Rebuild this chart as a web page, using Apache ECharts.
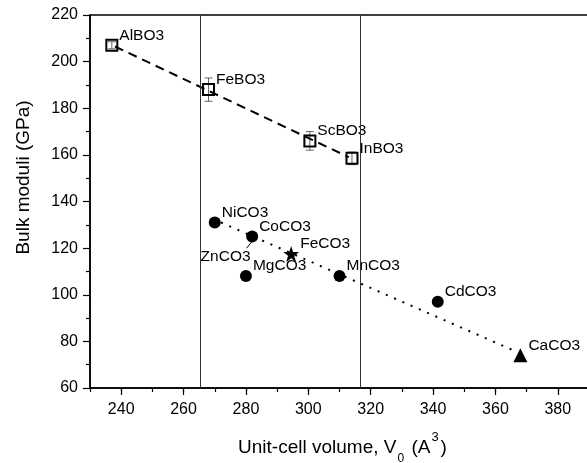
<!DOCTYPE html>
<html>
<head>
<meta charset="utf-8">
<script src="https://cdn.jsdelivr.net/npm/echarts@6/dist/echarts.min.js"></script>
<style>
  html, body { margin: 0; padding: 0; background: #fff; }
  #chart { width: 587px; height: 463px; }
</style>
</head>
<body>
<div id="chart"></div>
<script>
  // borates (open squares, dashed fit)
  const borateNames = ['AlBO3', 'FeBO3', 'ScBO3', 'InBO3'];
  const borateVolume = [237, 268, 300.5, 314];
  const borateModulus = [207, 188, 166, 158.5];
  const borateError = [1.5, 5, 4, 2.7];

  // carbonates (filled circles, dotted fit)
  const carbonateNames = ['NiCO3', 'CoCO3', 'MgCO3', 'MnCO3', 'CdCO3'];
  const carbonateVolume = [270, 282, 280, 310, 341.5];
  const carbonateModulus = [131, 125, 108, 108, 97];

  const sideriteNames = ['FeCO3'];
  const sideriteVolume = [294.5];
  const sideriteModulus = [117.5];

  const calciteNames = ['CaCO3'];
  const calciteVolume = [368];
  const calciteModulus = [74];

  // ZnCO3 pointer (label + short leader towards CoCO3)
  const zincNames = ['ZnCO3'];
  const zincPointerVolume = [280.2, 281.8];
  const zincPointerModulus = [120, 122.6];

  // fit lines
  const borateFitVolume = [238, 313];
  const borateFitModulus = [206.5, 159];
  const carbonateFitVolume = [272, 366];
  const carbonateFitModulus = [131, 76];

  // vertical reference lines
  const boundaryVolumes = [265.5, 316.5];

  // axes
  const xMin = 230, xMax = 390, xMinorStep = 10;
  const xTickValues = [240, 260, 280, 300, 320, 340, 360, 380];
  const yMin = 60, yMax = 220, yStep = 20;

  const font = 'Liberation Sans, Arial, sans-serif';

  function pairs(xs, ys) {
    return xs.map((x, i) => [x, ys[i]]);
  }

  function named(names, xs, ys) {
    return names.map((n, i) => ({name: n, value: [xs[i], ys[i]]}));
  }

  const pointLabel = {
    show: true,
    position: 'right',
    distance: 1,
    offset: [0, -10],
    formatter: '{b}',
    color: '#000',
    fontFamily: font,
    fontSize: 15.5
  };

  const tickStyle = {color: '#000', width: 1.2};

  const chart = echarts.init(document.getElementById('chart'));

  const option = {
    animation: false,
    grid: {
      left: 90,
      top: 15,
      width: 499,
      height: 373,
      outerBoundsMode: 'none',
      containLabel: false,
      show: true,
      borderColor: '#000',
      borderWidth: 1.5,
      backgroundColor: 'transparent'
    },
    xAxis: [
      {
        type: 'value',
        min: xMin,
        max: xMax,
        interval: xMinorStep,
        name: '{a|Unit-cell volume, V}{sub|0}{a| (A}{sup|3}{a|)}',
        nameLocation: 'middle',
        nameGap: 43,
        nameTextStyle: {
          padding: [0, 0, 0, 6],
          rich: {
            a: {fontSize: 19, fontFamily: font, color: '#000', lineHeight: 34, verticalAlign: 'middle'},
            sub: {fontSize: 12, fontFamily: font, color: '#000', lineHeight: 14, verticalAlign: 'bottom', padding: [0, 2, 0, 1]},
            sup: {fontSize: 13, fontFamily: font, color: '#000', lineHeight: 14, verticalAlign: 'top', padding: [0, 2, 0, 1]}
          }
        },
        axisLine: {show: true, lineStyle: {color: '#000', width: 1.5}},
        axisTick: {show: true, length: 7, customValues: xTickValues, lineStyle: tickStyle},
        splitLine: {show: false},
        axisLabel: {color: '#000', fontSize: 16, fontFamily: font, margin: 14, customValues: xTickValues}
      },
      {
        type: 'value',
        position: 'bottom',
        min: xMin,
        max: xMax,
        interval: xMinorStep,
        axisLine: {show: false},
        axisTick: {show: true, length: 4, lineStyle: tickStyle},
        axisLabel: {show: false},
        splitLine: {show: false}
      }
    ],
    yAxis: {
      type: 'value',
      min: yMin,
      max: yMax,
      interval: yStep,
      name: 'Bulk moduli (GPa)',
      nameLocation: 'middle',
      nameGap: 57,
      nameTextStyle: {color: '#000', fontSize: 19, fontFamily: font, padding: [0, 0, 0, 48]},
      axisLine: {show: true, lineStyle: {color: '#000', width: 1.5}},
      axisTick: {show: true, length: 7, lineStyle: tickStyle},
      minorTick: {show: true, splitNumber: 2, length: 4, lineStyle: tickStyle},
      splitLine: {show: false},
      axisLabel: {color: '#000', fontSize: 16, fontFamily: font, margin: 12}
    },
    series: [
      {
        type: 'line',
        data: pairs(borateFitVolume, borateFitModulus),
        symbol: 'none',
        lineStyle: {color: '#000', width: 2, type: [9, 6]},
        markLine: {
          silent: true,
          symbol: 'none',
          label: {show: false},
          lineStyle: {color: '#333', width: 1, type: 'solid'},
          data: boundaryVolumes.map(v => ({xAxis: v}))
        }
      },
      {
        type: 'line',
        data: pairs(carbonateFitVolume, carbonateFitModulus),
        symbol: 'none',
        lineStyle: {color: '#000', width: 2, type: [2, 7]}
      },
      {
        type: 'line',
        data: pairs(zincPointerVolume, zincPointerModulus),
        symbol: 'none',
        lineStyle: {color: '#000', width: 1}
      },
      {
        type: 'custom',
        data: borateVolume.map((x, i) => [x, borateModulus[i], borateError[i]]),
        renderItem(params, api) {
          const x = api.value(0), y = api.value(1), e = api.value(2);
          const top = api.coord([x, y + e]);
          const bot = api.coord([x, y - e]);
          const style = {stroke: '#666', lineWidth: 1};
          return {
            type: 'group',
            children: [
              {type: 'line', shape: {x1: top[0], y1: top[1], x2: bot[0], y2: bot[1]}, style},
              {type: 'line', shape: {x1: top[0] - 4, y1: top[1], x2: top[0] + 4, y2: top[1]}, style},
              {type: 'line', shape: {x1: bot[0] - 4, y1: bot[1], x2: bot[0] + 4, y2: bot[1]}, style}
            ]
          };
        }
      },
      {
        type: 'scatter',
        data: named(borateNames, borateVolume, borateModulus),
        symbol: 'rect',
        symbolSize: 11,
        itemStyle: {color: 'rgba(0,0,0,0)', borderColor: '#000', borderWidth: 2, opacity: 1},
        label: pointLabel
      },
      {
        type: 'scatter',
        data: named(carbonateNames, carbonateVolume, carbonateModulus),
        symbol: 'circle',
        symbolSize: 12,
        itemStyle: {color: '#000', opacity: 1},
        label: pointLabel
      },
      {
        type: 'scatter',
        data: named(sideriteNames, sideriteVolume, sideriteModulus),
        symbol: 'path://M50,0 L61.8,35.3 L98.5,35.3 L68.8,57.1 L79.9,92.7 L50,70.9 L20.1,92.7 L31.2,57.1 L1.5,35.3 L38.2,35.3 Z',
        symbolSize: 16,
        itemStyle: {color: '#000', opacity: 1},
        label: pointLabel
      },
      {
        type: 'scatter',
        data: named(calciteNames, calciteVolume, calciteModulus),
        symbol: 'triangle',
        symbolSize: 14,
        itemStyle: {color: '#000', opacity: 1},
        label: pointLabel
      },
      {
        type: 'scatter',
        data: named(zincNames, [zincPointerVolume[0]], [zincPointerModulus[0]]),
        symbolSize: 0,
        itemStyle: {opacity: 1},
        label: Object.assign({}, pointLabel, {position: 'left', distance: 0, offset: [4, 9]})
      }
    ]
  };

  chart.setOption(option);
</script>
</body>
</html>
